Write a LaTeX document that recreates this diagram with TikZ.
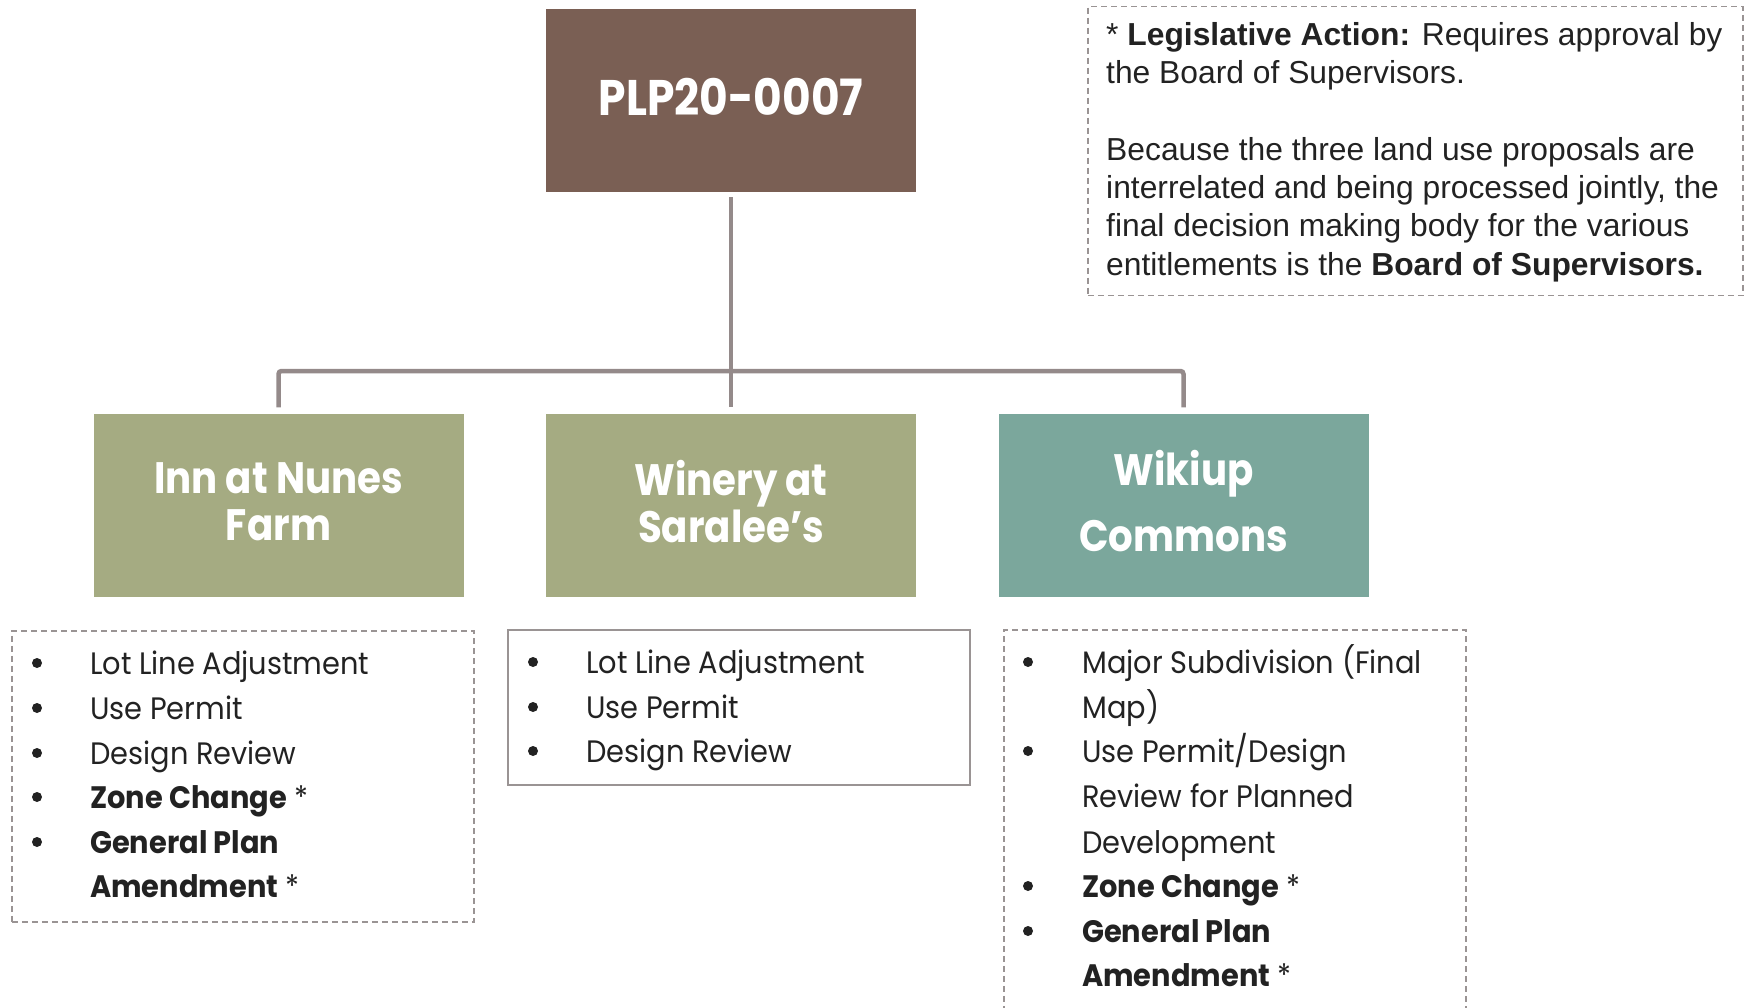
\documentclass[tikz,border=0pt]{standalone}
\usepackage{fontspec}
\setmainfont{Liberation Sans}
\newfontfamily\fut[FakeStretch=0.93]{Poppins}
\newfontfamily\futh[FakeStretch=0.88]{Poppins}
\definecolor{brownbox}{HTML}{7A5F54}
\definecolor{greenbox}{HTML}{A5AB82}
\definecolor{tealbox}{HTML}{7BA79C}
\definecolor{connc}{HTML}{948A8A}
\definecolor{dashc}{HTML}{9A9494}
\definecolor{txt}{HTML}{222222}
\tikzset{
  head/.style={minimum width=370pt, minimum height=183pt, inner sep=0pt},
  htext/.style={inner sep=0pt, text=white, align=center, font=\futh\bfseries\fontsize{44}{47}\selectfont},
  conn/.style={draw=connc, line width=4.5pt, rounded corners=3pt},
  listbox/.style={draw=dashc, line width=1.5pt, dash pattern=on 6pt off 4pt},
  bul/.style={circle, inner sep=0pt, minimum size=10pt, fill=txt},
  itm/.style={inner sep=0pt, anchor=base west, text=txt, font=\fut\fontsize{31}{33}\selectfont},
}
\begin{document}
\begin{tikzpicture}[x=1pt,y=-1pt]
\useasboundingbox (0,0) rectangle (1748,1008);
\clip (0,0) rectangle (1748,1008);
% top
\node[head, fill=brownbox] (plp) at (731,100.5) {};
\node[htext, font=\futh\bfseries\fontsize{50}{54}\selectfont] (plpt) at (731,97) {PLP20-0007};
\node[head, fill=greenbox] (inn) at (278.5,505) {};
\node[htext] (innt) at (278.5,502) {Inn at Nunes\\Farm};
\node[head, fill=greenbox] (win) at (731,505) {};
\node[htext] (wint) at (731,502) {Winery at\\Saralee’s};
\node[head, fill=tealbox] (wik) at (1183.5,505) {};
\node[htext] (wik1) at (1183.5,474) {Wikiup};
\node[htext] (wik2) at (1183.5,536) {Commons};
% connectors
\coordinate (hub) at (731,371);
\draw[conn, shorten <=5pt, shorten >=6pt] (plp.south) -- (win.north);
\draw[conn, shorten >=6pt] (hub) -| (inn.north);
\draw[conn, shorten >=6pt] (hub) -| (wik.north);
% legend
\node[listbox, anchor=north west, minimum width=655pt, minimum height=289pt] (leg) at (1087,6) {};
\node[anchor=north west, inner sep=0pt, align=left, text=txt, font=\fontsize{31.8}{38.3}\selectfont] (legt) at (1106,22)
 {* \textbf{Legislative Action:} Requires approval by\\
  the Board of Supervisors.\\[38.3pt]
  Because the three land use proposals are\\
  interrelated and being processed jointly, the\\
  final decision making body for the various\\
  entitlements is the \textbf{Board of Supervisors.}};
% list boxes
\node[listbox, anchor=north west, minimum width=462pt, minimum height=291pt] (la) at (11,630) {};
\node[draw=dashc, line width=1.5pt, anchor=north west, minimum width=462pt, minimum height=155pt] (lb) at (507,629) {};
\node[listbox, anchor=north west, minimum width=462pt, minimum height=420pt] (lc) at (1003,629) {};
% list A
\foreach \yy/\tt [count=\i] in {663/Lot Line Adjustment, 708/Use Permit, 753/Design Review, 797/{{\bfseries Zone Change} *}, 842/{\bfseries General Plan}} {
  \node[bul] (ab\i) at (37,\yy) {};
  \node[itm] (at\i) at (90,\yy+11) {\tt};
}
\node[itm] (at6) at (90,897) {{\bfseries Amendment} *};
% list B
\foreach \yy/\tt [count=\i] in {662/Lot Line Adjustment, 707/Use Permit, 751/Design Review} {
  \node[bul] (bb\i) at (533,\yy) {};
  \node[itm] (bt\i) at (586,\yy+11) {\tt};
}
% list C
\node[bul] (cb1) at (1028,662) {};
\node[itm] (ct1) at (1082,673) {Major Subdivision (Final};
\node[itm] (ct2) at (1082,718) {Map)};
\node[bul] (cb2) at (1028,751) {};
\node[itm] (ct3) at (1082,762) {Use Permit/Design};
\node[itm] (ct4) at (1082,807) {Review for Planned};
\node[itm] (ct5) at (1082,853) {Development};
\node[bul] (cb3) at (1028,886) {};
\node[itm] (ct6) at (1082,897) {{\bfseries Zone Change} *};
\node[bul] (cb4) at (1028,931) {};
\node[itm] (ct7) at (1082,942) {\bfseries General Plan};
\node[itm] (ct8) at (1082,986) {{\bfseries Amendment} *};
\end{tikzpicture}
\end{document}
